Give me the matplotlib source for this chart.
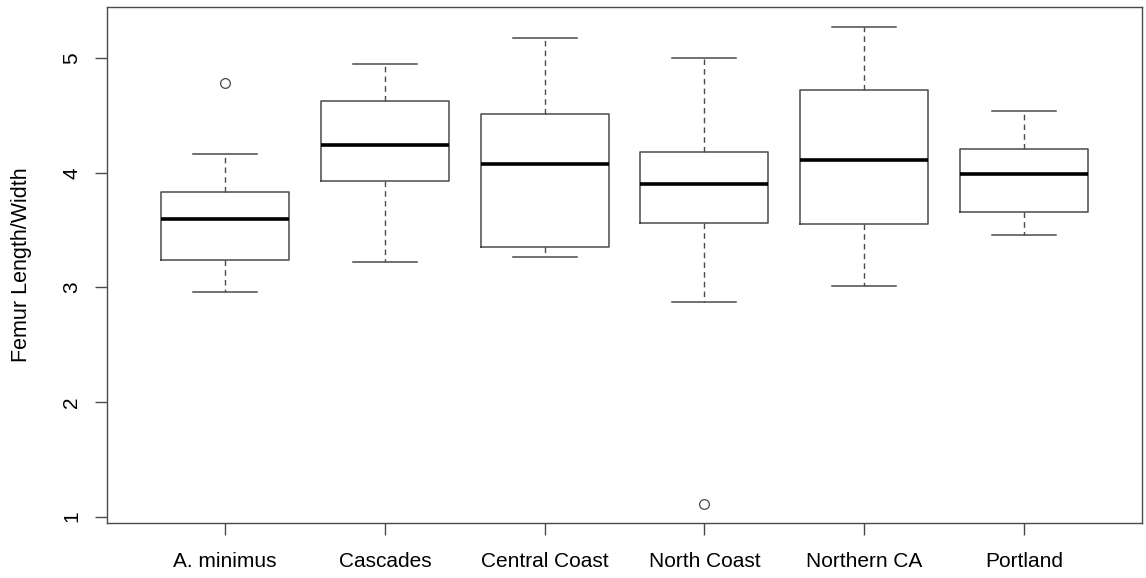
import matplotlib
matplotlib.use("Agg")
import matplotlib.pyplot as plt

# Values
groups = ["A. minimus", "Cascades", "Central Coast", "North Coast", "Northern CA", "Portland"]
whisker_low = [2.96, 3.22, 3.265, 2.87, 3.01, 3.46]
q1 = [3.24, 3.93, 3.35, 3.56, 3.55, 3.66]
median = [3.60, 4.24, 4.08, 3.90, 4.11, 3.985]
q3 = [3.83, 4.63, 4.51, 4.18, 4.72, 4.21]
whisker_high = [4.16, 4.95, 5.18, 5.00, 5.276, 4.54]
outliers = [[4.785], [], [], [1.106], [], []]

stats = []
for i, name in enumerate(groups):
    stats.append({
        "label": name,
        "whislo": whisker_low[i],
        "q1": q1[i],
        "med": median[i],
        "q3": q3[i],
        "whishi": whisker_high[i],
        "fliers": outliers[i],
    })

plt.rcParams["font.family"] = ["Liberation Sans", "DejaVu Sans"]

fig = plt.figure(figsize=(11.46, 5.78), dpi=100)
ax = fig.add_axes([0.0934, 0.0945, 0.9031, 0.8941])

line_col = "#4a4a4a"
ax.bxp(
    stats,
    positions=range(1, len(groups) + 1),
    widths=0.8,
    showfliers=True,
    boxprops=dict(color=line_col, linewidth=1.1),
    medianprops=dict(color="black", linewidth=2.6),
    whiskerprops=dict(color=line_col, linewidth=1.0, linestyle=(0, (4, 3))),
    capprops=dict(color=line_col, linewidth=1.1),
    capwidths=0.4,
    flierprops=dict(marker="o", markersize=7, markerfacecolor="none",
                    markeredgecolor=line_col, markeredgewidth=0.9),
)

ax.set_xlim(0.26, 6.74)
ax.set_ylim(0.94, 5.45)
ax.set_yticks([1, 2, 3, 4, 5])
ax.set_yticklabels(["1", "2", "3", "4", "5"], rotation=90, va="center")
ax.set_ylabel("Femur Length/Width", fontsize=15.5, labelpad=22)

ax.tick_params(axis="both", length=8.5, width=1.0, color=line_col)
ax.tick_params(axis="x", labelsize=15, pad=12)
ax.tick_params(axis="y", labelsize=15, pad=10)

for side in ax.spines.values():
    side.set_color(line_col)
    side.set_linewidth(1.0)

fig.savefig("out.png", dpi=100)
